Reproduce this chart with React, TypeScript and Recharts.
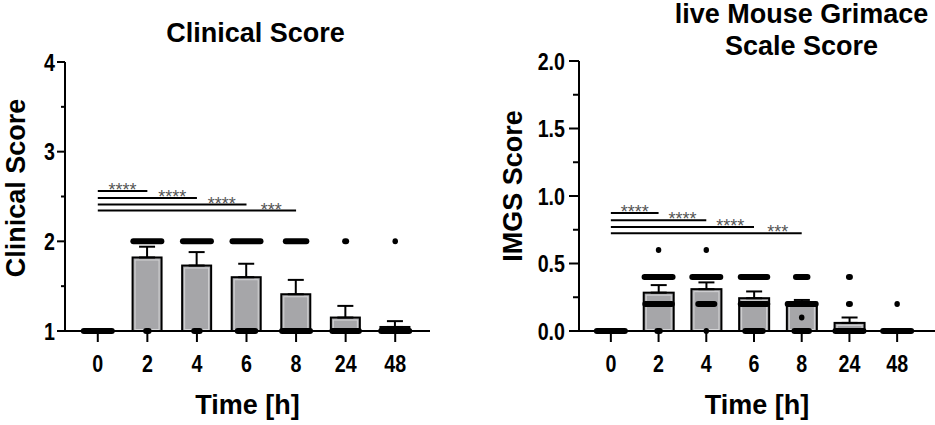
import { ComposedChart, Bar, ErrorBar, Scatter, XAxis, YAxis, ReferenceLine } from 'recharts';

// categories (hours after treatment)
const TIMES = ['0', '2', '4', '6', '8', '24', '48'];

// clinical score: mean and upper SEM
const CLIN_MEAN = [1, 1.82, 1.73, 1.6, 1.41, 1.15, 1.045];
const CLIN_ERR = [0, 0.12, 0.15, 0.15, 0.16, 0.13, 0.065];

// iMGS score: mean and upper SEM
const IMGS_MEAN = [0, 0.284, 0.31, 0.243, 0.21, 0.06, 0];
const IMGS_ERR = [0, 0.056, 0.05, 0.05, 0.02, 0.04, 0];

// individual animals: [time, score, number of overlapping animals]
const CLIN_DOTS: [string, number, number][] = [
  ['0', 1, 20],
  ['2', 2, 20], ['2', 1, 3],
  ['4', 2, 20], ['4', 1, 5],
  ['6', 2, 20], ['6', 1, 13],
  ['8', 2, 15], ['8', 1, 20],
  ['24', 2, 2], ['24', 1, 19],
  ['48', 2, 1], ['48', 1, 20],
];

const IMGS_DOTS: [string, number, number][] = [
  ['0', 0, 20],
  ['2', 0.6, 1], ['2', 0.4, 20], ['2', 0.2, 19], ['2', 0, 3],
  ['4', 0.6, 1], ['4', 0.4, 20], ['4', 0.2, 12], ['4', 0, 1],
  ['6', 0.4, 19], ['6', 0.2, 19], ['6', 0, 13],
  ['8', 0.4, 9], ['8', 0.2, 20], ['8', 0.1, 1], ['8', 0, 11],
  ['24', 0.4, 2], ['24', 0.2, 2], ['24', 0, 20],
  ['48', 0.2, 1], ['48', 0, 20],
];

// significance brackets vs. 0 h
const SIG_END = ['2', '4', '6', '8'];
const SIG_TEXT = ['****', '****', '****', '***'];
const CLIN_SIG_Y = [2.561, 2.483, 2.41, 2.343];
const IMGS_SIG_Y = [0.875, 0.82, 0.77, 0.725];

const CLIN_TICKS = [1, 1.5, 2, 2.5, 3, 3.5, 4];
const IMGS_TICKS = [0, 0.25, 0.5, 0.75, 1, 1.25, 1.5, 1.75, 2];

const FONT = "'Liberation Sans', Arial, sans-serif";
const BAR_FILL = '#a6a6a9';
const NARROW_SCALE = 0.82;

const rows = (mean: number[], err: number[]) =>
  TIMES.map((t, i) => ({ time: t, mean: mean[i], err: [0, err[i]] }));

const dots = (list: [string, number, number][]) => list.map(([time, v, n]) => ({ time, v, n }));

function BarShape(props: any) {
  const { x, y, width, height } = props;
  if (!height || height < 0.5) return null;
  return (
    <g>
      <rect x={x} y={y} width={width} height={height} fill={BAR_FILL} stroke="#000" strokeWidth={2} />
      {height > 6 && (
        <rect x={x + 2.5} y={y + 2.5} width={width - 5} height={height - 4} fill="none" stroke="#d4d4d6" strokeWidth={1} />
      )}
    </g>
  );
}

function DotBand(props: any) {
  const { cx, cy, payload } = props;
  const w = 5.5 + (payload.n - 1) * 1.5;
  return <rect x={cx - w / 2} y={cy - 3} width={w} height={6} rx={3} fill="#000" />;
}

// condensed bold numbers, like the original's Arial Narrow
function NarrowText({ x, y, anchor, dy, children }: any) {
  return (
    <g transform={`translate(${x},${y})`}>
      <text transform={`scale(${NARROW_SCALE},1)`} textAnchor={anchor} dy={dy} fontFamily={FONT} fontWeight="bold" fontSize={24} fill="#000">
        {children}
      </text>
    </g>
  );
}

function XTick(p: any) {
  return <NarrowText x={p.x} y={p.y} anchor="middle" dy="0.71em">{p.payload.value}</NarrowText>;
}

function makeYTick(isMajor: (v: number) => boolean, fmt: (v: number) => string, majorLen: number, minorLen: number, gap: number) {
  return (p: any) => {
    const { x, y, payload } = p;
    const v = payload.value;
    const major = isMajor(v);
    const len = major ? majorLen : minorLen;
    return (
      <g>
        <line x1={x - len} x2={x} y1={y} y2={y} stroke="#000" strokeWidth={2} />
        {major && (
          <NarrowText x={x - len - gap} y={y} anchor="end" dy="0.36em">{fmt(v)}</NarrowText>
        )}
      </g>
    );
  };
}

interface PanelProps {
  left: number;
  width: number;
  top: number;
  yAxisWidth: number;
  marginRight: number;
  pad: { left: number; right: number };
  domain: [number, number];
  ticks: number[];
  tick: (p: any) => any;
  data: any[];
  dotData: any[];
  sigY: number[];
  barSize: number;
  yLabel: string;
  yLabelX: number;
  yLabelY: number;
}

function Panel(p: PanelProps) {
  const plotW = p.width - p.yAxisWidth - p.marginRight;
  const step = (plotW - p.pad.left - p.pad.right) / TIMES.length;
  return (
    <div style={{ position: 'absolute', left: p.left, top: 0 }}>
      <ComposedChart
        width={p.width}
        height={425}
        data={p.data}
        margin={{ top: p.top, right: p.marginRight, bottom: 0, left: 0 }}
      >
        <XAxis
          dataKey="time"
          type="category"
          allowDuplicatedCategory={false}
          height={94}
          padding={p.pad}
          interval={0}
          axisLine={{ stroke: '#000', strokeWidth: 2 }}
          tickLine={{ stroke: '#000', strokeWidth: 2 }}
          tickSize={11}
          tickMargin={13}
          tick={XTick}
          label={(lp: any) => {
            const vb = lp.viewBox || {};
            return (
              <text x={(vb.x ?? 0) + (vb.width ?? 0) / 2} y={(vb.y ?? 331) + 83} textAnchor="middle" fontFamily={FONT} fontWeight="bold" fontSize={27} fill="#000">
                Time [h]
              </text>
            );
          }}
        />
        <YAxis
          type="number"
          width={p.yAxisWidth}
          domain={p.domain}
          ticks={p.ticks}
          interval={0}
          axisLine={{ stroke: '#000', strokeWidth: 2 }}
          tickLine={false}
          tickSize={0}
          tickMargin={0}
          tick={p.tick}
          label={() => (
            <text
              x={p.yLabelX}
              y={p.yLabelY}
              transform={`rotate(-90 ${p.yLabelX} ${p.yLabelY})`}
              textAnchor="middle"
              fontFamily={FONT}
              fontWeight="bold"
              fontSize={27}
              fill="#000"
            >
              {p.yLabel}
            </text>
          )}
        />
        {SIG_END.map((end, i) => (
          <ReferenceLine
            key={end}
            segment={[{ x: TIMES[0], y: p.sigY[i] }, { x: end, y: p.sigY[i] }]}
            stroke="#000"
            strokeWidth={2}
            ifOverflow="visible"
            label={(lp: any) => {
              const vb = lp.viewBox;
              if (!vb) return null;
              return (
                <text x={vb.x + vb.width - step / 2} y={vb.y + 5} textAnchor="middle" fontFamily={FONT} fontSize={18} fill="#555">
                  {SIG_TEXT[i]}
                </text>
              );
            }}
          />
        ))}
        <Bar dataKey="mean" barSize={p.barSize} shape={BarShape} isAnimationActive={false}>
          <ErrorBar dataKey="err" direction="y" width={8} stroke="#000" strokeWidth={2} />
        </Bar>
        <Scatter data={p.dotData} dataKey="v" shape={DotBand} isAnimationActive={false} />
      </ComposedChart>
    </div>
  );
}

export default function App() {
  return (
    <div style={{ position: 'absolute', left: 0, top: 0, width: 935, height: 425, background: '#fff', fontFamily: FONT }}>
      <Panel
        left={0}
        width={465}
        top={62}
        yAxisWidth={65}
        marginRight={35}
        pad={{ left: 8, right: 10 }}
        domain={[1, 4]}
        ticks={CLIN_TICKS}
        tick={makeYTick((v) => Number.isInteger(v), (v) => String(v), 8, 4, 2)}
        data={rows(CLIN_MEAN, CLIN_ERR)}
        dotData={dots(CLIN_DOTS)}
        sigY={CLIN_SIG_Y}
        barSize={29}
        yLabel="Clinical Score"
        yLabelX={25}
        yLabelY={188}
      />
      <Panel
        left={465}
        width={470}
        top={61}
        yAxisWidth={114}
        marginRight={0}
        pad={{ left: 8, right: 14 }}
        domain={[0, 2]}
        ticks={IMGS_TICKS}
        tick={makeYTick((v) => Math.abs(v * 2 - Math.round(v * 2)) < 1e-6, (v) => v.toFixed(1), 10, 6, 4)}
        data={rows(IMGS_MEAN, IMGS_ERR)}
        dotData={dots(IMGS_DOTS)}
        sigY={IMGS_SIG_Y}
        barSize={30}
        yLabel="IMGS Score"
        yLabelX={57}
        yLabelY={186}
      />
      <svg width={935} height={425} style={{ position: 'absolute', left: 0, top: 0, pointerEvents: 'none' }}>
        <text x={255.5} y={42} textAnchor="middle" fontFamily={FONT} fontWeight="bold" fontSize={27} fill="#000">
          Clinical Score
        </text>
        <text x={801.5} y={23} textAnchor="middle" fontFamily={FONT} fontWeight="bold" fontSize={27} fill="#000">
          live Mouse Grimace
        </text>
        <text x={801.5} y={55} textAnchor="middle" fontFamily={FONT} fontWeight="bold" fontSize={27} fill="#000">
          Scale Score
        </text>
      </svg>
    </div>
  );
}
